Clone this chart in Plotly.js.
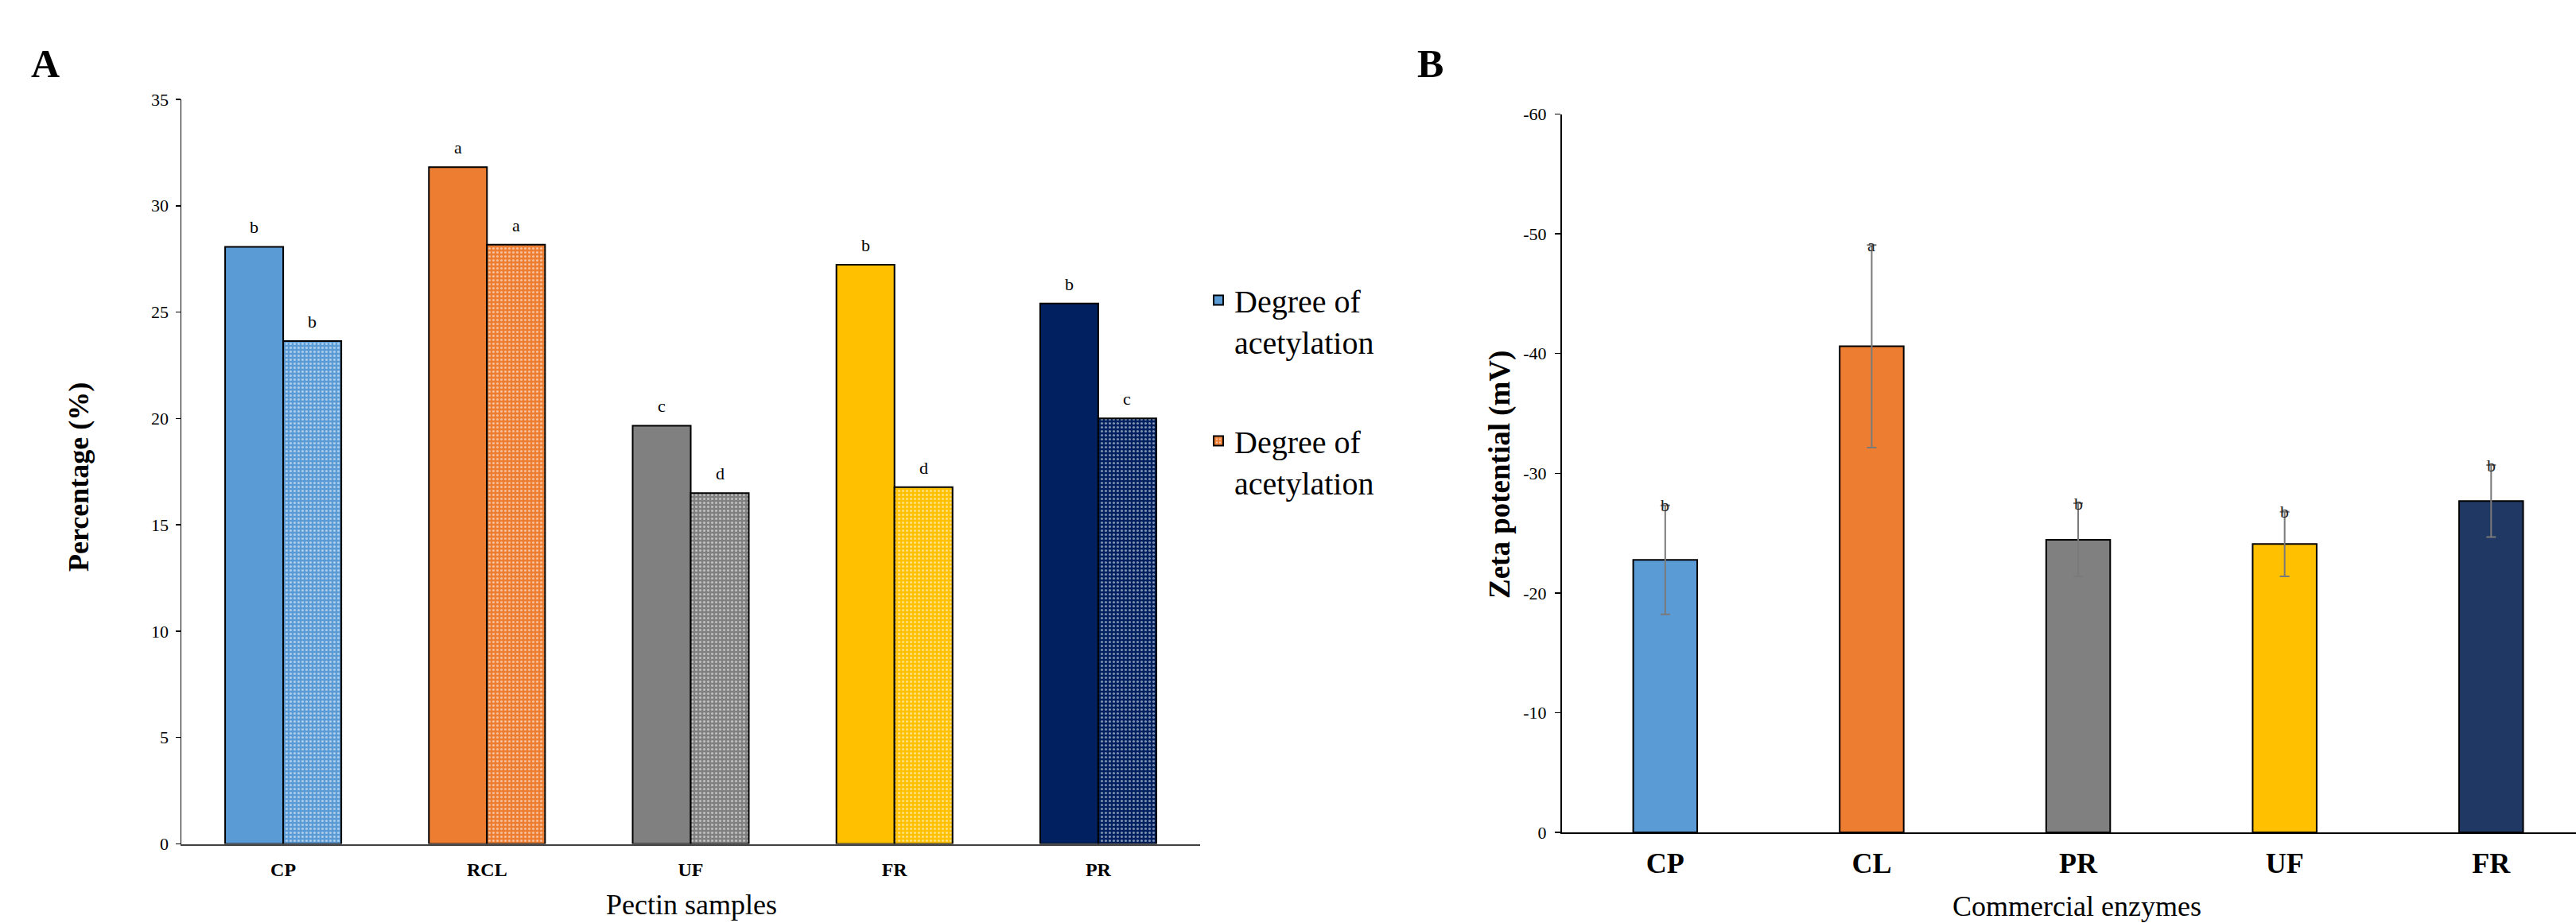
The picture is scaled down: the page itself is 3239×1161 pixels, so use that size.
<!DOCTYPE html>
<html>
<head>
<meta charset="utf-8">
<script src="https://cdn.plot.ly/plotly-3.0.1.min.js"></script>
<style>html,body{margin:0;padding:0;background:#fff;}</style>
</head>
<body>
<div id="chart" style="width:3239px;height:1161px;"></div>
<script>
// ---------- Panel A data ----------
const pectinSamples = ['CP', 'RCL', 'UF', 'FR', 'PR'];
const acetylSeries1 = [28.07, 31.81, 19.66, 27.23, 25.40];
const acetylSeries2 = [23.64, 28.17, 16.49, 16.77, 20.00];
const lettersSeries1 = ['b', 'a', 'c', 'b', 'b'];
const lettersSeries2 = ['b', 'a', 'd', 'd', 'c'];
const seriesNames = ['Degree of<br>acetylation', 'Degree of<br>acetylation'];
const yTicksA = [0, 5, 10, 15, 20, 25, 30, 35];

// ---------- Panel B data ----------
const enzymes = ['CP', 'CL', 'PR', 'UF', 'FR'];
const zetaValues = [-22.76, -40.61, -24.44, -24.09, -27.68];
const zetaErrors = [4.55, 8.46, 3.05, 2.70, 3.00];
const zetaLetters = ['b', 'a', 'b', 'b', 'b'];
const yTicksB = [0, -10, -20, -30, -40, -50, -60];

// ---------- styles ----------
const colorsA = ['#5B9BD5', '#ED7D31', '#808080', '#FFC000', '#002060'];
const colorsB = ['#5B9BD5', '#ED7D31', '#808080', '#FFC000', '#203864'];
const SERIF = '"Liberation Serif", "Times New Roman", serif';
const bargapA = 0.43;
const halfBar = (1 - bargapA) / 4;

const traces = [];
// Series 1 (solid)
pectinSamples.forEach((cat, i) => {
  traces.push({
    type: 'bar', x: [cat], y: [acetylSeries1[i]],
    xaxis: 'x', yaxis: 'y',
    offsetgroup: 's1', legendgroup: 'g1',
    name: seriesNames[0], showlegend: i === 0,
    marker: { color: colorsA[i], line: { color: '#000', width: 2 } },
    hoverinfo: 'x+y'
  });
});
// Series 2 (dotted pattern)
pectinSamples.forEach((cat, i) => {
  traces.push({
    type: 'bar', x: [cat], y: [acetylSeries2[i]],
    xaxis: 'x', yaxis: 'y',
    offsetgroup: 's2', legendgroup: 'g2',
    name: seriesNames[1], showlegend: i === 1,
    marker: {
      color: colorsA[i],
      line: { color: '#000', width: 2 },
      pattern: { shape: '.', fillmode: 'overlay', bgcolor: colorsA[i], fgcolor: '#ffffff', size: 5, solidity: 0.3 }
    },
    hoverinfo: 'x+y'
  });
});
// Panel B
traces.push({
  type: 'bar', x: enzymes, y: zetaValues,
  xaxis: 'x2', yaxis: 'y2', width: 0.31, showlegend: false,
  marker: { color: colorsB, line: { color: '#000', width: 2 } },
  error_y: { type: 'data', array: zetaErrors, visible: true, color: '#7a7a7a', thickness: 2, width: 6 }
});

const annotations = [];
pectinSamples.forEach((cat, i) => {
  annotations.push({ xref: 'x', yref: 'y', x: i - halfBar, y: acetylSeries1[i], text: lettersSeries1[i],
    showarrow: false, xanchor: 'center', yanchor: 'bottom', yshift: 10, font: { family: SERIF, size: 22, color: '#000' } });
  annotations.push({ xref: 'x', yref: 'y', x: i + halfBar, y: acetylSeries2[i], text: lettersSeries2[i],
    showarrow: false, xanchor: 'center', yanchor: 'bottom', yshift: 10, font: { family: SERIF, size: 22, color: '#000' } });
});
enzymes.forEach((cat, i) => {
  annotations.push({ xref: 'x2', yref: 'y2', x: i, y: zetaValues[i] - zetaErrors[i], text: zetaLetters[i],
    showarrow: false, xanchor: 'center', yanchor: 'middle', font: { family: SERIF, size: 22, color: '#222' } });
});
// Panel letters and axis titles
function paperText(xpx, ypx, text, size, angle) {
  return { xref: 'paper', yref: 'paper', x: xpx / 3239, y: 1 - ypx / 1161, text: text,
    xanchor: 'center', yanchor: 'middle', showarrow: false, textangle: angle || 0,
    font: { family: SERIF, size: size, color: '#000' } };
}
annotations.push(paperText(57, 80, '<b>A</b>', 50));
annotations.push(paperText(1798, 80, '<b>B</b>', 50));
annotations.push(paperText(99, 600, '<b>Percentage (%)</b>', 36, -90));
annotations.push(paperText(869, 1138, 'Pectin samples', 36));
annotations.push(paperText(1886, 597, '<b>Zeta potential (mV)</b>', 37, -90));
annotations.push(paperText(2611, 1140, 'Commercial enzymes', 36));

const layout = {
  width: 3239, height: 1161,
  paper_bgcolor: '#fff', plot_bgcolor: '#fff',
  margin: { l: 0, r: 0, t: 0, b: 0 },
  barmode: 'group', bargap: bargapA, bargroupgap: 0,
  font: { family: SERIF, color: '#000' },
  showlegend: true,
  legend: {
    x: 1512 / 3239, y: 1 - 345 / 1161, xanchor: 'left', yanchor: 'top',
    font: { family: SERIF, size: 40, color: '#000' },
    traceorder: 'grouped', tracegroupgap: 70, valign: 'top',
    bgcolor: 'rgba(0,0,0,0)'
  },
  xaxis: {
    domain: [228 / 3239, 1509 / 3239], anchor: 'y', type: 'category',
    categoryorder: 'array', categoryarray: pectinSamples,
    showline: true, linecolor: '#404040', linewidth: 2, ticks: '',
    ticklabelstandoff: 10,
    showgrid: false, zeroline: false,
    tickfont: { family: SERIF, size: 24, color: '#000', weight: 'bold' },
    automargin: false, fixedrange: true
  },
  yaxis: {
    domain: [1 - 1061.5 / 1161, 1 - 125 / 1161], anchor: 'x',
    range: [0, 35], tickvals: yTicksA, ticktext: yTicksA.map(String),
    showline: true, linecolor: '#000', linewidth: 1.5,
    ticks: 'outside', ticklen: 6, tickwidth: 1.5, tickcolor: '#000',
    ticklabelstandoff: 4,
    showgrid: false, zeroline: false,
    tickfont: { family: SERIF, size: 22, color: '#000' },
    automargin: false, fixedrange: true
  },
  xaxis2: {
    domain: [1964 / 3239, 1], anchor: 'y2', type: 'category',
    categoryorder: 'array', categoryarray: enzymes,
    range: [-0.5, 4.411],
    showline: true, linecolor: '#000', linewidth: 2, ticks: '',
    ticklabelstandoff: 6,
    showgrid: false, zeroline: false,
    tickfont: { family: SERIF, size: 36, color: '#000', weight: 'bold' },
    automargin: false, fixedrange: true
  },
  yaxis2: {
    domain: [1 - 1047 / 1161, 1 - 143.6 / 1161], anchor: 'x2',
    range: [0, -60], tickvals: yTicksB, ticktext: yTicksB.map(String),
    showline: true, linecolor: '#000', linewidth: 2,
    ticks: 'outside', ticklen: 7, tickwidth: 1.5, tickcolor: '#000',
    ticklabelstandoff: 6,
    showgrid: false, zeroline: false,
    tickfont: { family: SERIF, size: 22, color: '#000' },
    automargin: false, fixedrange: true
  },
  annotations: annotations
};

Plotly.newPlot('chart', traces, layout, { displayModeBar: false, staticPlot: true });
</script>
</body>
</html>
